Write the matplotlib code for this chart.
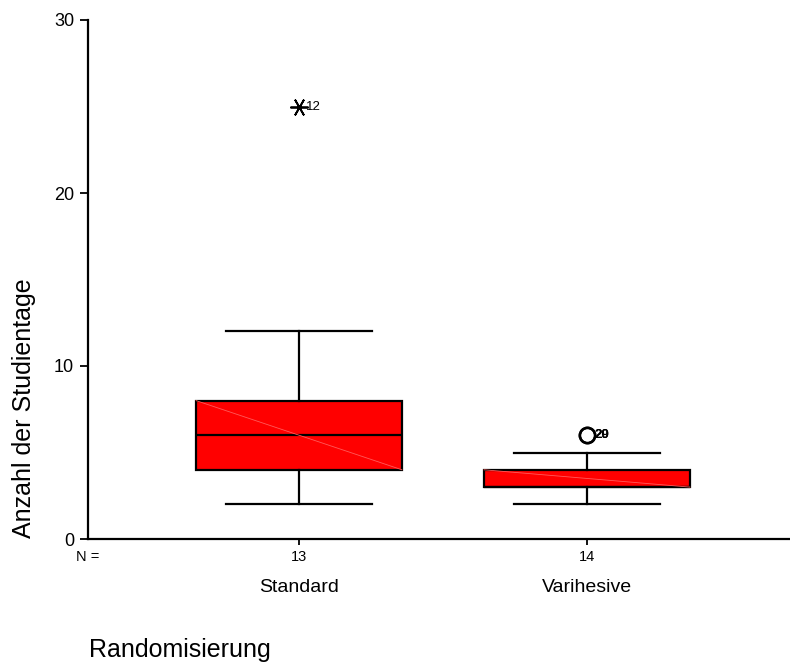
import matplotlib
matplotlib.use("Agg")
import matplotlib.pyplot as plt
from matplotlib import transforms

plt.rcParams['font.family'] = ['Liberation Sans', 'DejaVu Sans']

groups = ["Standard", "Varihesive"]
n_counts = [13, 14]
q1 = [4, 3]
medians = [6, 3]
q3 = [8, 4]
whislo = [2, 2]
whishi = [12, 5]
extremes = [[25], []]
extreme_labels = [["12"], []]
outliers = [[], [6, 6]]
outlier_labels = [[], ["20", "29"]]
yticks = [0, 10, 20, 30]

positions = [1, 2]
box_w = 0.715
cap_w = 0.51

fig = plt.figure(figsize=(7.9, 6.62), dpi=100)
ax = fig.add_axes([88 / 790, (662 - 539) / 662, (790 - 88) / 790, (539 - 20) / 662])

stats = []
for i in range(len(groups)):
    stats.append(dict(q1=q1[i], med=medians[i], q3=q3[i], whislo=whislo[i],
                      whishi=whishi[i], fliers=[], label=groups[i]))

ax.bxp(stats, positions=positions, widths=box_w, capwidths=[cap_w] * 2,
       patch_artist=True, showfliers=False,
       boxprops=dict(facecolor='#ff0000', edgecolor='black', linewidth=1.6),
       medianprops=dict(color='black', linewidth=1.6),
       whiskerprops=dict(color='black', linewidth=1.6),
       capprops=dict(color='black', linewidth=1.6))

# faint diagonal rendering highlight inside boxes
for i, p in enumerate(positions):
    ax.plot([p - box_w / 2, p + box_w / 2], [q3[i], q1[i]], color='#ff5a5a',
            lw=0.6, zorder=3)

# extremes and outliers
for i, p in enumerate(positions):
    for v, lab in zip(extremes[i], extreme_labels[i]):
        ax.plot([p], [v], marker=(6, 2, 90), markersize=13, color='black',
                markeredgewidth=1.3, zorder=5, clip_on=False)
        ax.text(p + 0.025, v, lab, fontsize=9.5, va='center', ha='left')
    for v, lab in zip(outliers[i], outlier_labels[i]):
        ax.plot([p], [v], marker='o', markersize=11, markerfacecolor='none',
                markeredgecolor='black', markeredgewidth=1.8, zorder=5)
        ax.text(p + 0.025, v, lab, fontsize=9.5, va='center', ha='left',
                fontweight='bold')

ax.set_xlim(1 - (299 - 88) / 288, 1 + (790 - 299) / 288)
ax.set_ylim(0, 30)
ax.set_yticks(yticks)
ax.set_yticklabels([str(t) for t in yticks], fontsize=13)
ax.set_xticks(positions)
ax.set_xticklabels([])
ax.tick_params(axis='y', direction='out', length=6, width=1.3, pad=4)
ax.tick_params(axis='x', direction='out', length=4, width=1.3)
for s in ['top', 'right']:
    ax.spines[s].set_visible(False)
for s in ['left', 'bottom']:
    ax.spines[s].set_linewidth(1.6)

trans = transforms.blended_transform_factory(ax.transData, fig.transFigure)
fig.text(88 / 790, 1 - 557 / 662, "N =", fontsize=10.5, ha='center', va='center')
for p, n, g in zip(positions, n_counts, groups):
    ax.text(p, 1 - 557 / 662, str(n), fontsize=10.5, ha='center', va='center',
            transform=trans)
    ax.text(p, 1 - 588 / 662, g, fontsize=14, ha='center', va='center',
            transform=trans)

fig.text(89 / 790, 1 - 650 / 662, "Randomisierung", fontsize=18,
         ha='left', va='center')
fig.text(24 / 790, 1 - 408 / 662, "Anzahl der Studientage", fontsize=18,
         rotation=90, ha='center', va='center')

fig.savefig("out.png", dpi=100)
